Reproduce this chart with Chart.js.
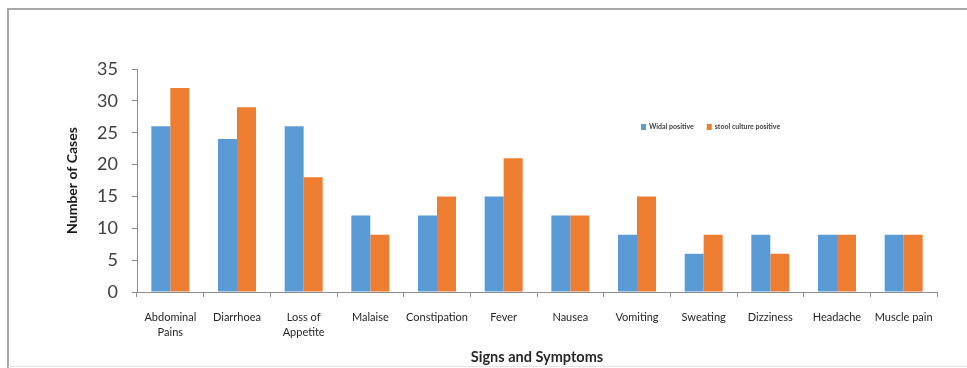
<!DOCTYPE html>
<html>
<head>
<meta charset="utf-8">
<script src="https://cdn.jsdelivr.net/npm/chart.js@4.4.1/dist/chart.umd.min.js"></script>
<style>
  html, body { margin: 0; padding: 0; background: #fff; }
  #wrap { position: relative; width: 967px; height: 368px; }
</style>
</head>
<body>
<div id="wrap"><canvas id="c" width="967" height="368"></canvas></div>
<script>
// Signs and symptoms recorded in the study
const categories = [
  ["Abdominal", "Pains"], "Diarrhoea", ["Loss of", "Appetite"], "Malaise",
  "Constipation", "Fever", "Nausea", "Vomiting", "Sweating", "Dizziness",
  "Headache", "Muscle pain"
];
const widalPositive = [26, 24, 26, 12, 12, 15, 12, 9, 6, 9, 9, 9];
const stoolCulturePositive = [32, 29, 18, 9, 15, 21, 12, 15, 9, 6, 9, 9];
const yTicks = [0, 5, 10, 15, 20, 25, 30, 35];
const seriesNames = ["Widal positive", "stool culture positive"];

const BLUE = "#5b9bd5";
const ORANGE = "#ed7d31";
const FONT = "Lato, 'Open Sans', sans-serif";

// Frame around the figure
const framePlugin = {
  id: "frame",
  beforeDraw(chart) {
    const ctx = chart.ctx;
    ctx.save();
    ctx.fillStyle = "#fff";
    ctx.fillRect(0, 0, chart.width, chart.height);
    ctx.strokeStyle = "#a6a6a6";
    ctx.lineWidth = 2;
    ctx.beginPath();
    ctx.moveTo(8, chart.height);
    ctx.lineTo(8, 9);
    ctx.lineTo(chart.width, 9);
    ctx.stroke();
    ctx.strokeStyle = "#e4e4e4";
    ctx.lineWidth = 1;
    ctx.beginPath();
    ctx.moveTo(8, chart.height - 1.5);
    ctx.lineTo(chart.width, chart.height - 1.5);
    ctx.stroke();
    ctx.restore();
  }
};

// Small legend placed inside the plot area, to the right
const insetLegend = {
  id: "insetLegend",
  afterDraw(chart) {
    const ctx = chart.ctx;
    const area = chart.chartArea;
    const x0 = area.left + (area.right - area.left) * 0.63;
    const y0 = area.top + 58;
    ctx.save();
    ctx.font = "bold 7px " + FONT;
    ctx.textBaseline = "middle";
    let x = x0;
    chart.data.datasets.forEach((ds) => {
      ctx.fillStyle = ds.backgroundColor;
      ctx.fillRect(x, y0 - 3, 5, 6);
      ctx.fillStyle = "#404040";
      ctx.fillText(ds.label, x + 8, y0);
      x += 8 + ctx.measureText(ds.label).width + 13;
    });
    ctx.restore();
  }
};

new Chart(document.getElementById("c"), {
  type: "bar",
  data: {
    labels: categories,
    datasets: [
      { label: seriesNames[0], data: widalPositive, backgroundColor: BLUE },
      { label: seriesNames[1], data: stoolCulturePositive, backgroundColor: ORANGE }
    ]
  },
  options: {
    responsive: false,
    animation: false,
    devicePixelRatio: 1,
    layout: { padding: { top: 69, right: 30, bottom: 0, left: 0 } },
    datasets: { bar: { categoryPercentage: 0.57, barPercentage: 1.0 } },
    plugins: {
      legend: { display: false },
      tooltip: { enabled: false }
    },
    scales: {
      x: {
        afterFit(scale) { scale.height = 76; },
        grid: { drawOnChartArea: false, drawTicks: true, tickLength: 5, color: "#8c8c8c", offset: true },
        border: { color: "#8c8c8c", width: 1 },
        ticks: {
          color: "#262626",
          font: { family: FONT, size: 11, lineHeight: 1.45 },
          padding: 12,
          maxRotation: 0,
          autoSkip: false
        },
        title: {
          display: true,
          text: "Signs and Symptoms",
          color: "#262626",
          font: { family: FONT, size: 14.5, weight: "bold" },
          padding: { top: 0, bottom: 2 }
        }
      },
      y: {
        min: 0,
        max: 35,
        afterFit(scale) { scale.width = 137; },
        afterBuildTicks(scale) { scale.ticks = yTicks.map(v => ({ value: v })); },
        grid: { drawOnChartArea: false, drawTicks: true, tickLength: 5, color: "#8c8c8c" },
        border: { color: "#8c8c8c", width: 1 },
        ticks: {
          color: "#404040",
          font: { family: FONT, size: 18 },
          padding: 14
        },
        title: {
          display: true,
          text: "Number of Cases",
          color: "#1a1a1a",
          font: { family: FONT, size: 14, weight: "bold" },
          padding: { top: 64, bottom: 0 }
        }
      }
    }
  },
  plugins: [framePlugin, insetLegend]
});
</script>
</body>
</html>
